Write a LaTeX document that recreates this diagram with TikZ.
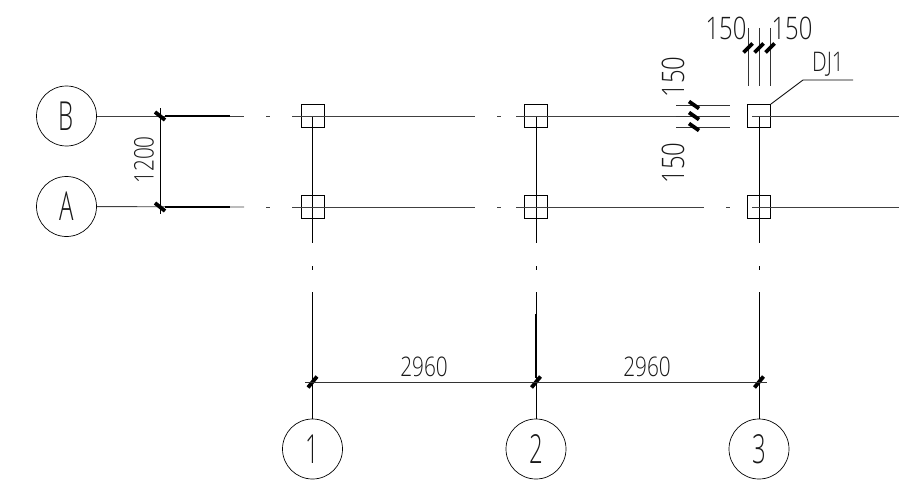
\documentclass[tikz,border=0pt]{standalone}
\usepackage{fontspec}
\usetikzlibrary{calc}
\setmainfont[FakeStretch=0.77]{Open Sans Light}
\newfontfamily\axfamily[FakeStretch=0.6]{Open Sans Light}
\newcommand{\dimfont}{\fontsize{27}{27}\selectfont}
\newcommand{\bigfont}{\fontsize{31}{31}\selectfont}
\newcommand{\axfont}{\axfamily\fontsize{40}{40}\selectfont}
\tikzset{
  x=1pt,y=-1pt,
  axisline/.style={draw=black!75,line width=0.9pt},
  gridline/.style={draw=black,line width=0.85pt},
  dimline/.style={draw=black!80,line width=0.8pt},
  heavyline/.style={draw=black,line width=1.05pt},
  tick/.style={draw=black,line width=3.8pt},
  bubble/.style={circle,draw=black,line width=0.7pt,minimum size=60pt,inner sep=0pt,text=black!90,font=\axfont},
  foot/.style={rectangle,draw=black,line width=0.8pt,minimum size=23pt,inner sep=0pt},
  dimtext/.style={inner sep=0pt,text=black!90,font=\dimfont},
  bigtext/.style={inner sep=0pt,text=black!90,font=\bigfont},
}
\begin{document}
\begin{tikzpicture}
\useasboundingbox (0,0) rectangle (924,495);
% foundations
\foreach \n/\x in {1/312.5,2/536,3/759}{
  \node[foot] (fb\n) at (\x,116) {};
  \node[foot] (fa\n) at (\x,207) {};
  \node[bubble] (c\n) at (\x,449) {\n};
  \coordinate (cb\n) at (\x,116);
  \coordinate (ca\n) at (\x,243);
  \coordinate (cd1\n) at (\x,266);
  \coordinate (cd2\n) at (\x,270);
  \coordinate (cl\n) at (\x,292);
  \coordinate (cdim\n) at (\x,382);
  \draw[gridline] (cb\n) -- (ca\n);
  \draw[gridline] (cd1\n) -- (cd2\n);
  \draw[gridline] (cl\n) -- (c\n);
  \draw[tick] ($(cdim\n)+(-4.5,5.5)$) -- ($(cdim\n)+(4.5,-5.5)$);
}
\coordinate (hv0) at (536,314);
\coordinate (hv1) at (536,378);
\draw[heavyline] (hv0) -- (hv1);
% axis bubbles
\node[bubble] (B) at (66.5,116) {B};
\node[bubble] (A) at (66.5,206.5) {A};
\foreach \r/\y/\e in {B/116/730,A/207/704}{
  \coordinate (\r a0) at (165,\y);
  \coordinate (\r a2) at (230,\y);
  \coordinate (\r a1) at (244,\y);
  \coordinate (\r b0) at (266,\y);
  \coordinate (\r b1) at (270,\y);
  \coordinate (\r c0) at (292,\y);
  \coordinate (\r c1) at (475,\y);
  \coordinate (\r d0) at (497,\y);
  \coordinate (\r d1) at (501,\y);
  \coordinate (\r e0) at (516,\y);
  \coordinate (\r e1) at (\e,\y);
  \coordinate (\r g0) at (752,\y);
  \coordinate (\r g1) at (899,\y);
  \draw[axisline] (\r) -- (\r a1);
  \draw[heavyline] (\r a0) -- (\r a2);
  \draw[axisline] (\r b0) -- (\r b1);
  \draw[axisline] (\r c0) -- (\r c1);
  \draw[axisline] (\r d0) -- (\r d1);
  \draw[axisline] (\r e0) -- (\r e1);
  \draw[axisline] (\r g0) -- (\r g1);
}
\coordinate (Af0) at (726,207);
\coordinate (Af1) at (730,207);
\draw[axisline] (Af0) -- (Af1);
% 1200 dimension
\coordinate (d1t) at (160,108);
\coordinate (d1b) at (160,214);
\coordinate (d1B) at (160,116);
\coordinate (d1A) at (160,207);
\draw[draw=black,line width=0.8pt] (d1t) -- (d1b);
\draw[tick] ($(d1B)+(-5,-4)$) -- ($(d1B)+(5,4)$);
\draw[tick] ($(d1A)+(-5,-4)$) -- ($(d1A)+(5,4)$);
\node[dimtext,rotate=90] (t1200) at (144,160) {1200};
% horizontal dimension
\coordinate (d2l) at (305,382);
\coordinate (d2r) at (767,382);
\draw[dimline] (d2l) -- (d2r);
\node[dimtext] (t29601) at (424,367) {2960};
\node[dimtext] (t29602) at (647,367) {2960};
% top 150s
\foreach \n/\x in {1/748,2/759,3/770}{
  \coordinate (vt\n) at (\x,28);
  \coordinate (vb\n) at (\x,86);
  \coordinate (vm\n) at (\x,48);
  \draw[dimline] (vt\n) -- (vb\n);
  \draw[tick] ($(vm\n)+(-4.5,4.5)$) -- ($(vm\n)+(4.5,-4.5)$);
}
\node[bigtext] (t150a) at (726,28) {150};
\node[bigtext] (t150b) at (792,28) {150};
% side 150s
\foreach \n/\y in {1/105,2/116,3/127}{
  \coordinate (hl\n) at (676,\y);
  \coordinate (hr\n) at (730,\y);
  \coordinate (hm\n) at (694,\y);
  \draw[dimline] (hl\n) -- (hr\n);
  \draw[tick] ($(hm\n)+(-5,-3.5)$) -- ($(hm\n)+(5,3.5)$);
}
\node[bigtext,rotate=90] (t150c) at (673,77) {150};
\node[bigtext,rotate=90] (t150d) at (673,163) {150};
% leader
\coordinate (l1) at (803,80);
\coordinate (l2) at (853,80);
\draw[gridline] (fb3.north east) -- (l1) -- (l2);
\node[dimtext] (dj) at (828,64) {DJ1};
\end{tikzpicture}
\end{document}
